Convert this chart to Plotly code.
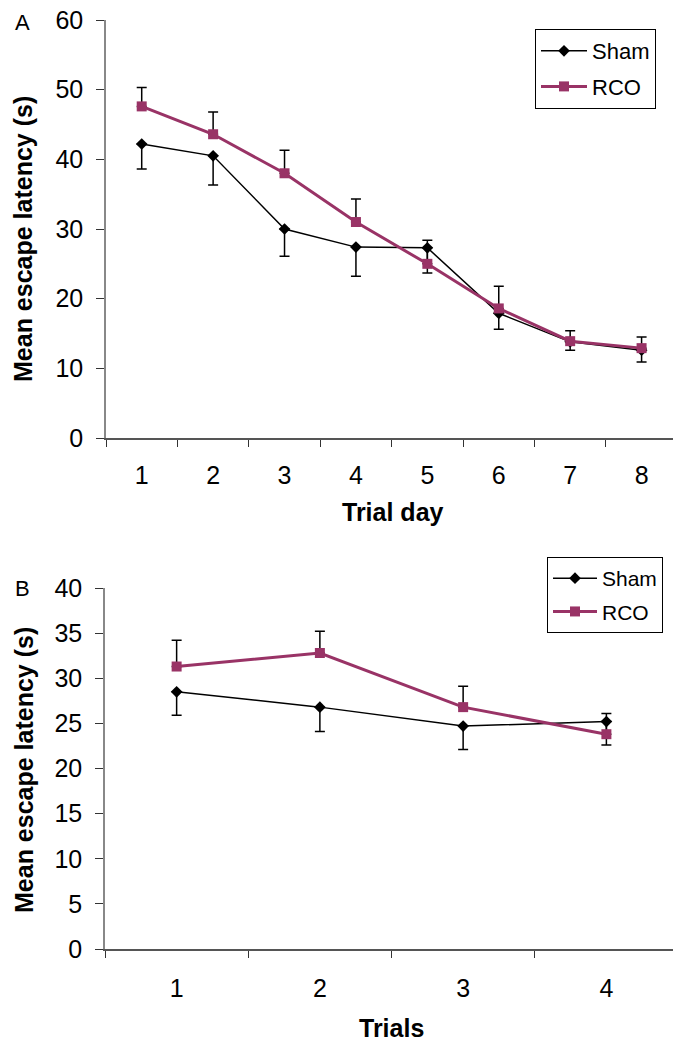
import plotly.graph_objects as go

# ---------------- data ----------------
days = ["1", "2", "3", "4", "5", "6", "7", "8"]
sham_a = [42.2, 40.5, 30.0, 27.4, 27.3, 17.9, 13.8, 12.6]
sham_a_minus = [3.6, 4.2, 3.9, 4.2, 3.6, 2.3, 1.2, 1.7]
rco_a = [47.6, 43.6, 38.0, 31.0, 25.0, 18.6, 13.9, 12.9]
rco_a_plus = [2.7, 3.2, 3.3, 3.3, 3.4, 3.2, 1.5, 1.6]

trials = ["1", "2", "3", "4"]
sham_b = [28.5, 26.8, 24.7, 25.2]
sham_b_minus = [2.6, 2.7, 2.6, 2.6]
rco_b = [31.3, 32.8, 26.8, 23.8]
rco_b_plus = [2.9, 2.4, 2.3, 2.3]

yticks_a = [0, 10, 20, 30, 40, 50, 60]
yticks_b = [0, 5, 10, 15, 20, 25, 30, 35, 40]

W, H = 673, 1042
FONT = "Liberation Sans, Arial, sans-serif"
RCO_COLOR = "#993366"

def px(v):
    return v / W

def py(v):
    return (H - v) / H

fig = go.Figure()

def add_pair(xcats, sham, sham_minus, rco, rco_plus, xa, ya, leg, tag):
    zeros = [0] * len(xcats)
    fig.add_trace(go.Scatter(
        x=xcats, y=sham, name="Sham", mode="lines+markers",
        xaxis=xa, yaxis=ya, legend=leg, legendgroup="sham" + tag,
        line=dict(color="black", width=1.5),
        marker=dict(symbol="diamond", size=9, color="black"),
        error_y=dict(type="data", symmetric=False, array=zeros,
                     arrayminus=sham_minus, color="black",
                     thickness=1.5, width=5),
    ))
    fig.add_trace(go.Scatter(
        x=xcats, y=rco, name="RCO", mode="lines+markers",
        xaxis=xa, yaxis=ya, legend=leg, legendgroup="rco" + tag,
        line=dict(color=RCO_COLOR, width=3),
        marker=dict(symbol="square", size=10, color=RCO_COLOR),
        error_y=dict(type="data", symmetric=False, array=rco_plus,
                     arrayminus=zeros, color="black",
                     thickness=1.5, width=5),
    ))

add_pair(days, sham_a, sham_a_minus, rco_a, rco_a_plus, "x", "y", "legend", "a")
add_pair(trials, sham_b, sham_b_minus, rco_b, rco_b_plus, "x2", "y2", "legend2", "b")

tickfont = dict(family=FONT, size=25, color="black")

common_x = dict(
    type="category", tickson="boundaries", ticks="outside", ticklen=7,
    tickcolor="#333333", tickwidth=1.3, showline=True, linecolor="#555555",
    linewidth=1.5, showgrid=False, zeroline=False, tickfont=tickfont,
    automargin=False,
)
common_y = dict(
    ticks="outside", ticklen=8, tickcolor="#333333", tickwidth=1.3,
    showline=True, linecolor="#888888", linewidth=1.5, showgrid=False,
    zeroline=False, tickfont=tickfont, automargin=False,
)

fig.update_layout(
    template="none",
    width=W, height=H,
    margin=dict(l=0, r=0, t=0, b=0, autoexpand=False),
    paper_bgcolor="white", plot_bgcolor="white",
    font=dict(family=FONT, color="black"),
    xaxis=dict(common_x, domain=[px(106), 1], anchor="y",
               range=[-0.5, 7.44], ticklabelstandoff=14),
    yaxis=dict(common_y, domain=[py(438), py(20)], anchor="x",
               range=[0, 60], tickvals=yticks_a, ticklabelstandoff=8),
    xaxis2=dict(common_x, domain=[px(105), 1], anchor="y2",
                range=[-0.5, 3.465], ticklabelstandoff=16),
    yaxis2=dict(common_y, domain=[py(949), py(588)], anchor="x2",
                range=[0, 40], tickvals=yticks_b, ticklabelstandoff=8),
    legend=dict(x=px(535), y=py(29), xanchor="left", yanchor="top",
                bgcolor="white", bordercolor="black", borderwidth=1,
                itemwidth=46, tracegroupgap=4,
                font=dict(family=FONT, size=22, color="black")),
    legend2=dict(x=px(547), y=py(557), xanchor="left", yanchor="top",
                 bgcolor="white", bordercolor="black", borderwidth=1,
                 itemwidth=44, tracegroupgap=3,
                 font=dict(family=FONT, size=21, color="black")),
    showlegend=True,
)

ann_font_bold = dict(family=FONT, size=25, color="black")
annotations = [
    dict(text="<b>Mean escape latency (s)</b>", x=px(23), y=py(239),
         textangle=-90, font=ann_font_bold),
    dict(text="<b>Trial day</b>", x=px(393), y=py(512), font=ann_font_bold),
    dict(text="<b>Mean escape latency (s)</b>", x=px(24), y=py(770),
         textangle=-90, font=ann_font_bold),
    dict(text="<b>Trials</b>", x=px(391), y=py(1028), font=ann_font_bold),
    dict(text="A", x=px(23), y=py(23), font=dict(family=FONT, size=22, color="black")),
    dict(text="B", x=px(23), y=py(588), font=dict(family=FONT, size=22, color="black")),
]
for a in annotations:
    a.update(xref="paper", yref="paper", xanchor="center", yanchor="middle",
             showarrow=False)
fig.update_layout(annotations=annotations)

fig.write_html("out.html")
